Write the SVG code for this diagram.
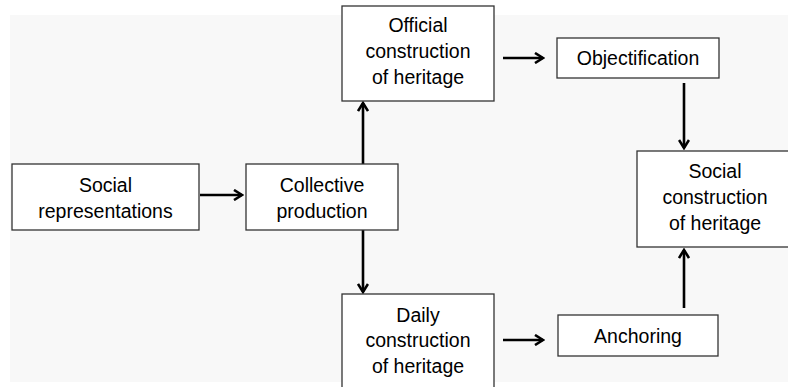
<svg xmlns="http://www.w3.org/2000/svg" width="788" height="387" viewBox="0 0 788 387">
<style>
.box{fill:#fff;stroke:#333;stroke-width:1.3}
.t{font-family:"Liberation Sans",Arial,sans-serif;font-size:19.5px;fill:#000;text-anchor:middle}
.c{stroke:#000;stroke-width:2.6;fill:none}
</style>
<defs>
<marker id="arr" viewBox="0 0 12 12" refX="10" refY="6" markerWidth="12" markerHeight="12" markerUnits="userSpaceOnUse" orient="auto">
<path d="M2,1 L10,6 L2,11" fill="none" stroke="#000" stroke-width="2.6"/>
</marker>
</defs>
<rect x="0" y="0" width="788" height="387" fill="#fff"/>
<rect x="10" y="15" width="778" height="367" fill="#f8f8f8"/>
<g id="connectors">
<line class="c" x1="200" y1="195" x2="242" y2="195" marker-end="url(#arr)"/>
<line class="c" x1="363" y1="164" x2="363" y2="103" marker-end="url(#arr)"/>
<line class="c" x1="363" y1="230" x2="363" y2="292" marker-end="url(#arr)"/>
<line class="c" x1="503" y1="58" x2="543" y2="58" marker-end="url(#arr)"/>
<line class="c" x1="684" y1="83" x2="684" y2="148" marker-end="url(#arr)"/>
<line class="c" x1="503" y1="340" x2="543" y2="340" marker-end="url(#arr)"/>
<line class="c" x1="684" y1="308" x2="684" y2="250" marker-end="url(#arr)"/>
</g>
<g id="social-representations">
<rect class="box" x="12" y="164" width="187" height="66"/>
<text class="t" x="105.5" y="192">Social</text>
<text class="t" x="105.5" y="218">representations</text>
</g>
<g id="collective-production">
<rect class="box" x="246" y="164" width="152" height="66"/>
<text class="t" x="322" y="192">Collective</text>
<text class="t" x="322" y="218">production</text>
</g>
<g id="official-construction">
<rect class="box" x="342" y="6" width="152" height="95"/>
<text class="t" x="418" y="32">Official</text>
<text class="t" x="418" y="58">construction</text>
<text class="t" x="418" y="84">of heritage</text>
</g>
<g id="objectification">
<rect class="box" x="557" y="38" width="162" height="40"/>
<text class="t" x="638" y="65">Objectification</text>
</g>
<g id="social-construction">
<rect class="box" x="637" y="151" width="160" height="96"/>
<text class="t" x="715" y="178">Social</text>
<text class="t" x="715" y="204">construction</text>
<text class="t" x="715" y="230">of heritage</text>
</g>
<g id="daily-construction">
<rect class="box" x="342" y="294" width="152" height="100"/>
<text class="t" x="418" y="322">Daily</text>
<text class="t" x="418" y="347">construction</text>
<text class="t" x="418" y="373">of heritage</text>
</g>
<g id="anchoring">
<rect class="box" x="558" y="315" width="160" height="41"/>
<text class="t" x="638" y="343">Anchoring</text>
</g>
</svg>
